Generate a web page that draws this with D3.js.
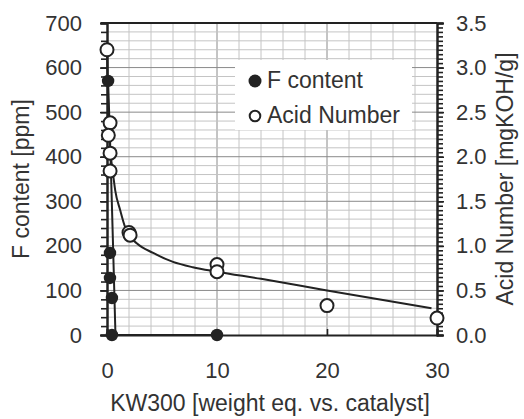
<!DOCTYPE html>
<html>
<head>
<meta charset="utf-8">
<script src="https://cdn.jsdelivr.net/npm/d3@7"></script>
<style>
  html, body { margin: 0; padding: 0; background: #fff; }
  svg { display: block; font-family: "Liberation Sans", Arial, sans-serif; }
</style>
</head>
<body>
<svg id="chart" width="524" height="419"></svg>
<script>
// Measured F content (ppm) vs. KW300 dosage
const fX = [0.1, 0.27, 0.27, 0.45, 0.45, 10];
const fVal = [570, 184, 128, 83, 0, 0];

// Measured acid number (mgKOH/g) vs. KW300 dosage
const anX = [0, 0.28, 0.12, 0.28, 0.28, 2.0, 2.1, 10, 10, 20, 30];
const anVal = [3.2, 2.38, 2.24, 2.04, 1.84, 1.15, 1.12, 0.79, 0.71, 0.33, 0.19];

// Trend line through the F content data
const fFitX = [0.1, 0.3, 0.55, 0.77, 10];
const fFitVal = [570, 420, 200, 0, 0];

// Trend line through the acid number data
const anFitX = [0, 0.1, 0.25, 0.5, 0.75, 1.2, 1.65, 2.0, 2.7, 4.2, 6.0, 7.8, 10, 14, 20, 29.5];
const anFitVal = [3.2, 2.6, 2.15, 1.86, 1.62, 1.4, 1.21, 1.12, 1.03, 0.92, 0.82, 0.76, 0.71, 0.63, 0.50, 0.30];

// Axis ticks
const xTicks = [0, 10, 20, 30];
const fTicks = [0, 100, 200, 300, 400, 500, 600, 700];
const anTicks = [0, 0.5, 1.0, 1.5, 2.0, 2.5, 3.0, 3.5];

(function draw() {
  const svg = d3.select("#chart");
  const pL = 107, pR = 437, pT = 23, pB = 335;
  const ink = "#222";

  const x = d3.scaleLinear().domain([0, 30]).range([pL, pR]);
  const yF = d3.scaleLinear().domain([0, 700]).range([pB, pT]);
  const yA = d3.scaleLinear().domain([0, 3.5]).range([pB, pT]);

  // Grid: light every 20 ppm / 2 units, darker at major values
  const grid = svg.append("g");
  d3.range(2, 30, 2).forEach(v => {
    grid.append("line")
      .attr("x1", x(v)).attr("x2", x(v)).attr("y1", pT).attr("y2", pB)
      .attr("stroke", v % 10 === 0 ? "#8a8a8a" : "#c4c4c4").attr("stroke-width", 1);
  });
  d3.range(20, 700, 20).forEach(v => {
    grid.append("line")
      .attr("x1", pL).attr("x2", pR).attr("y1", yF(v)).attr("y2", yF(v))
      .attr("stroke", v % 100 === 0 ? "#8a8a8a" : "#c4c4c4").attr("stroke-width", 1);
  });

  // Legend background
  svg.append("rect").attr("x", 235).attr("y", 60).attr("width", 177).attr("height", 70)
    .attr("fill", "#fff");

  // Trend lines
  const lineF = d3.line().x(d => x(d[0])).y(d => yF(d[1]));
  const lineA = d3.line().x(d => x(d[0])).y(d => yA(d[1])).curve(d3.curveMonotoneX);

  svg.append("path").datum(d3.zip(fFitX, fFitVal)).attr("d", lineF)
    .attr("fill", "none").attr("stroke", ink).attr("stroke-width", 2);
  svg.append("path").datum(d3.zip(anFitX, anFitVal)).attr("d", lineA)
    .attr("fill", "none").attr("stroke", ink).attr("stroke-width", 2);

  // Axes
  const axisStyle = g => {
    g.select(".domain").attr("stroke", ink).attr("stroke-width", 2);
    g.selectAll(".tick line").attr("stroke", ink).attr("stroke-width", 1.6);
    g.selectAll("text").attr("fill", "#333").style("font-size", "22px")
      .style("font-family", '"Liberation Sans", Arial, sans-serif');
  };

  // left ticks
  svg.append("g").attr("transform", `translate(${pL},0)`)
    .call(d3.axisLeft(yF).tickValues(d3.range(0, 701, 20)).tickSize(6).tickFormat(""))
    .call(axisStyle);
  svg.append("g").attr("transform", `translate(${pL},0)`)
    .call(d3.axisLeft(yF).tickValues(fTicks).tickSize(7).tickPadding(18).tickFormat(d3.format("d")))
    .call(axisStyle);

  // right ticks
  svg.append("g").attr("transform", `translate(${pR},0)`)
    .call(d3.axisRight(yA).tickValues(d3.range(0, 71).map(i => i * 0.05)).tickSize(6).tickFormat(""))
    .call(axisStyle);
  svg.append("g").attr("transform", `translate(${pR},0)`)
    .call(d3.axisRight(yA).tickValues(anTicks).tickSize(7).tickPadding(12).tickFormat(d3.format(".1f")))
    .call(axisStyle);

  // bottom axis
  svg.append("g").attr("transform", `translate(0,${pB})`)
    .call(d3.axisBottom(x).tickValues(xTicks).tickSize(-6).tickFormat(d3.format("d")))
    .call(axisStyle)
    .call(g => g.selectAll("text").attr("y", 27).attr("dy", "0.71em"));

  // top frame line
  svg.append("line").attr("x1", pL - 6).attr("x2", pR).attr("y1", pT).attr("y2", pT)
    .attr("stroke", ink).attr("stroke-width", 2);

  // Data markers
  svg.append("g").selectAll("circle").data(d3.zip(anX, anVal)).join("circle")
    .attr("cx", d => x(d[0])).attr("cy", d => yA(d[1])).attr("r", 6.5)
    .attr("fill", "#fff").attr("stroke", ink).attr("stroke-width", 2);
  svg.append("g").selectAll("circle").data(d3.zip(fX, fVal)).join("circle")
    .attr("cx", d => x(d[0])).attr("cy", d => yF(d[1])).attr("r", 6.2)
    .attr("fill", ink);

  // Legend
  svg.append("circle").attr("cx", 255).attr("cy", 81).attr("r", 6.5).attr("fill", ink);
  svg.append("circle").attr("cx", 255).attr("cy", 116).attr("r", 5.3)
    .attr("fill", "#fff").attr("stroke", ink).attr("stroke-width", 2);
  svg.append("text").attr("x", 267).attr("y", 88).text("F content")
    .attr("fill", "#333").style("font-size", "23px");
  svg.append("text").attr("x", 267).attr("y", 123).text("Acid Number")
    .attr("fill", "#333").style("font-size", "23px");

  // Axis titles
  svg.append("text").attr("transform", `translate(29,${(pT + pB) / 2}) rotate(-90)`)
    .attr("text-anchor", "middle").text("F content [ppm]")
    .attr("fill", "#333").style("font-size", "23px");
  svg.append("text").attr("transform", `translate(513,${(pT + pB) / 2}) rotate(-90)`)
    .attr("text-anchor", "middle").text("Acid Number [mgKOH/g]")
    .attr("fill", "#333").style("font-size", "23px");
  svg.append("text").attr("x", 270).attr("y", 411)
    .attr("text-anchor", "middle").text("KW300 [weight eq. vs. catalyst]")
    .attr("fill", "#333").style("font-size", "23px");
})();
</script>
</body>
</html>
